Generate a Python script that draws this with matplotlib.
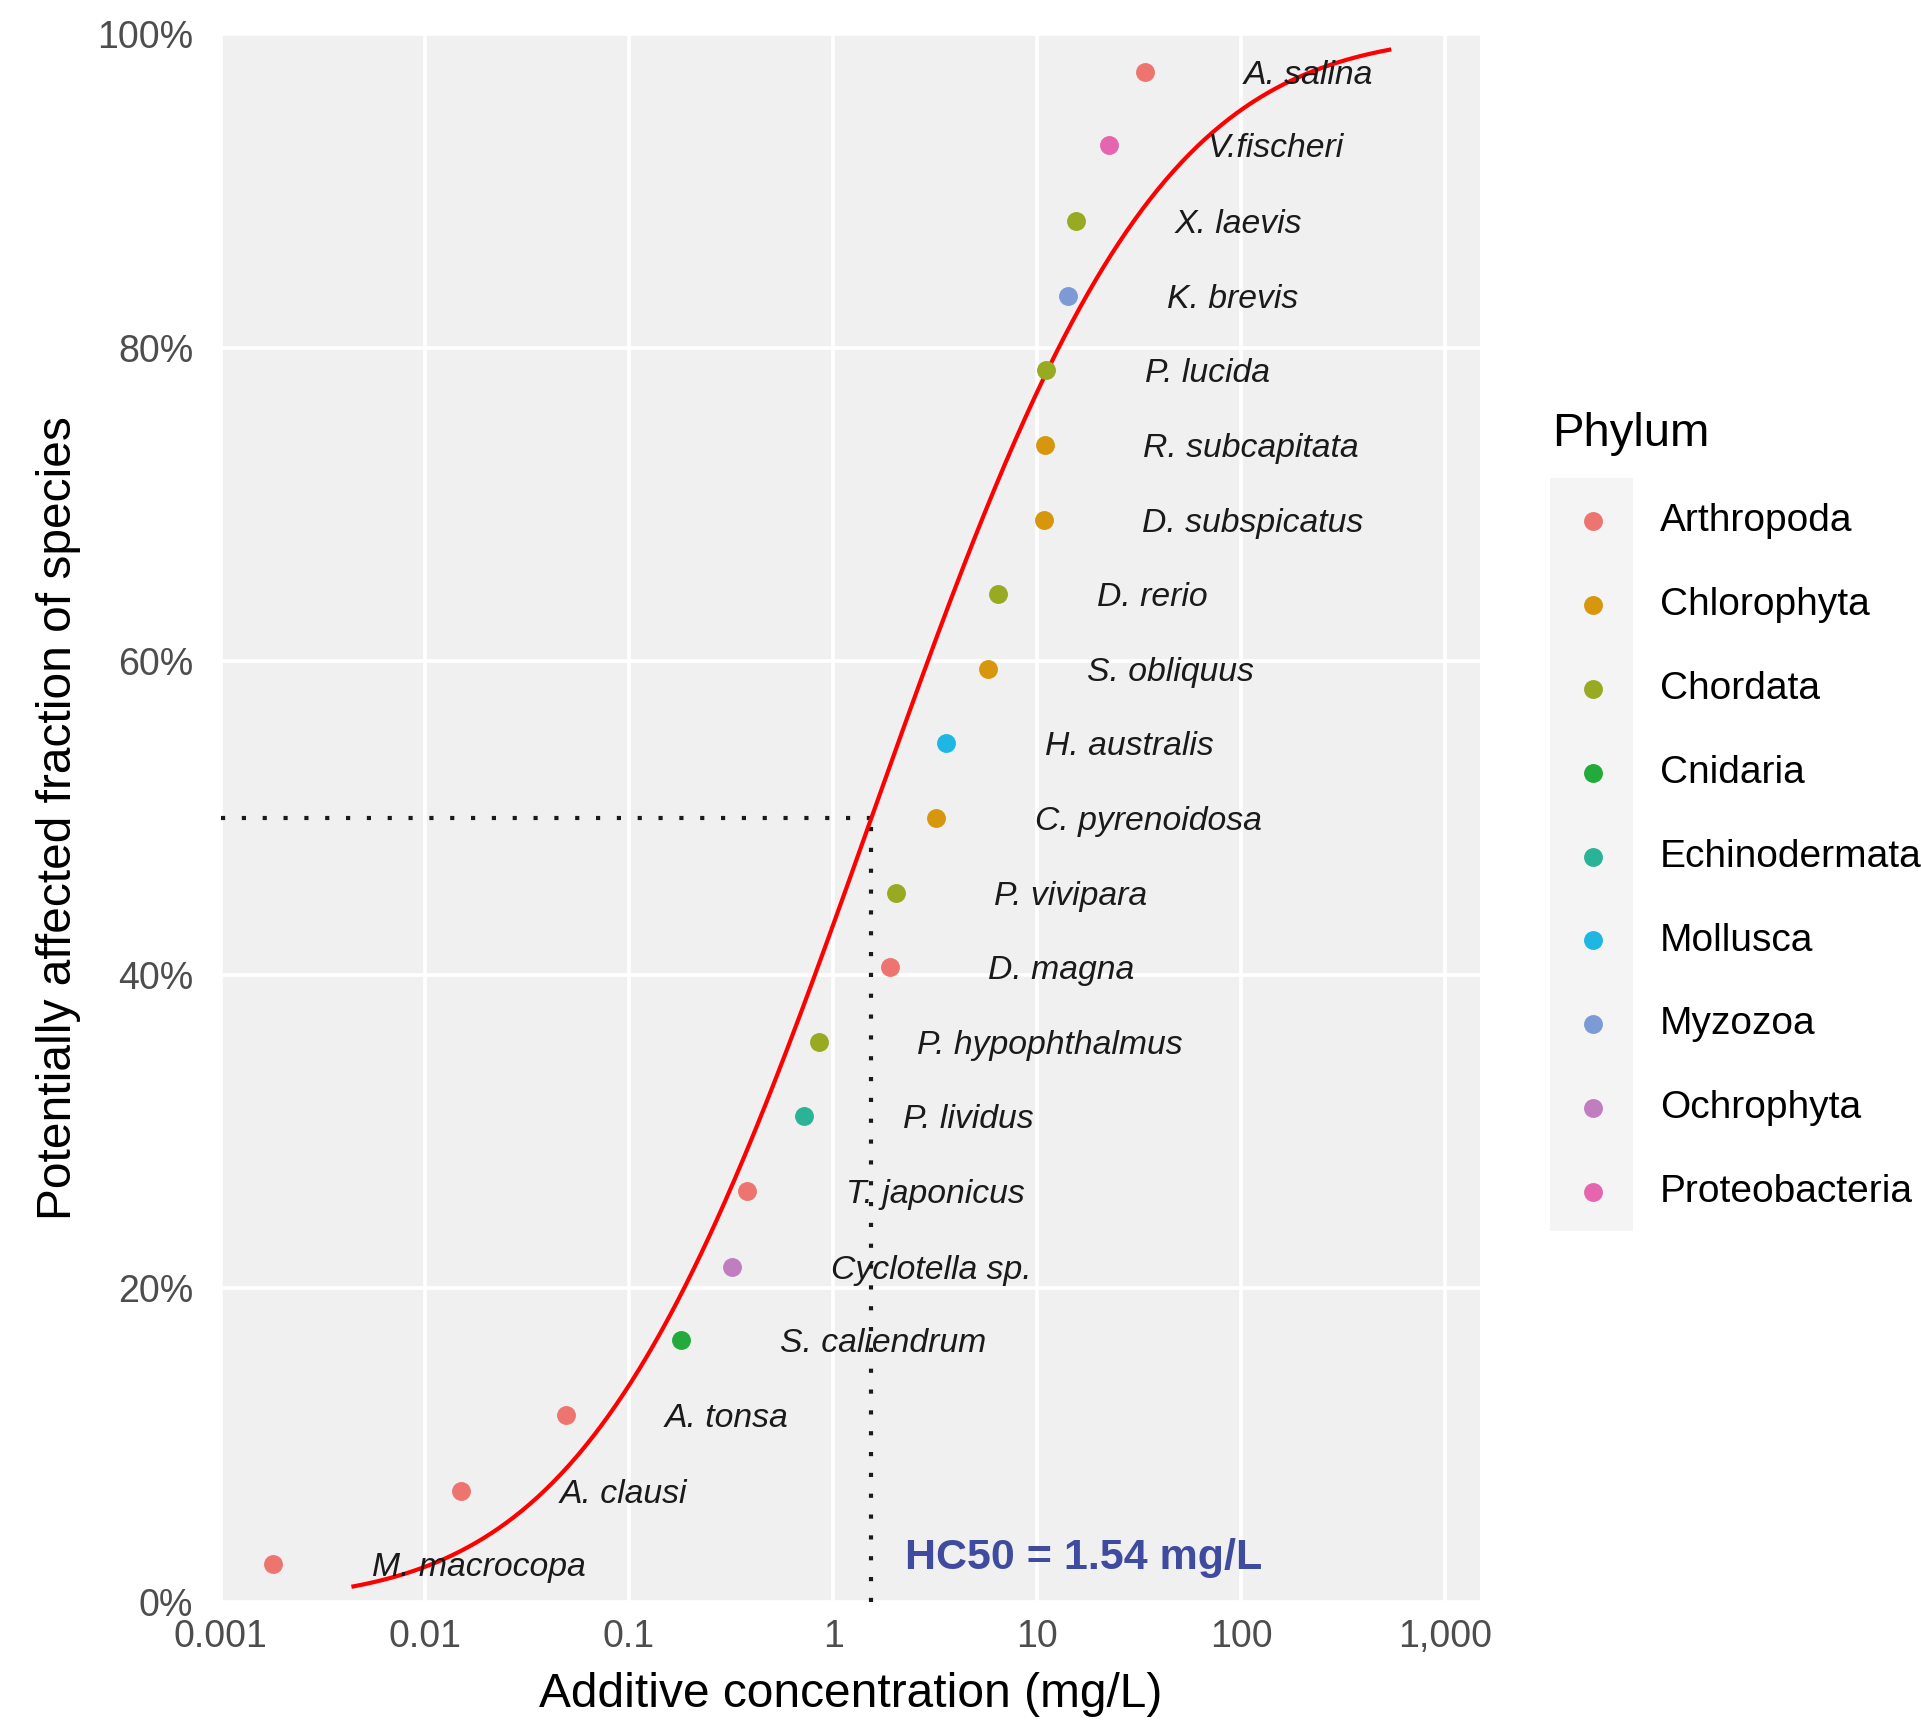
import numpy as np
import matplotlib
matplotlib.use('Agg')
import matplotlib.pyplot as plt
from matplotlib.patches import Rectangle
from math import erf, sqrt

plt.rcParams['font.family'] = 'Liberation Sans'

# species sensitivity data (bottom to top)
species = ['M. macrocopa', 'A. clausi', 'A. tonsa', 'S. caliendrum', 'Cyclotella sp.',
           'T. japonicus', 'P. lividus', 'P. hypophthalmus', 'D. magna', 'P. vivipara',
           'C. pyrenoidosa', 'H. australis', 'S. obliquus', 'D. rerio', 'D. subspicatus',
           'R. subcapitata', 'P. lucida', 'K. brevis', 'X. laevis', 'V.fischeri', 'A. salina']
phylum = ['Arthropoda', 'Arthropoda', 'Arthropoda', 'Cnidaria', 'Ochrophyta',
          'Arthropoda', 'Echinodermata', 'Chordata', 'Arthropoda', 'Chordata',
          'Chlorophyta', 'Mollusca', 'Chlorophyta', 'Chordata', 'Chlorophyta',
          'Chlorophyta', 'Chordata', 'Myzozoa', 'Chordata', 'Proteobacteria', 'Arthropoda']
conc = [0.0018, 0.015, 0.049, 0.18, 0.32, 0.38, 0.72, 0.85, 1.90, 2.03, 3.21,
        3.59, 5.76, 6.44, 10.8, 10.9, 11.1, 14.2, 15.5, 22.5, 33.7]
fraction = [0.024, 0.071, 0.119, 0.167, 0.214, 0.262, 0.310, 0.357, 0.405, 0.452, 0.500,
            0.548, 0.595, 0.643, 0.690, 0.738, 0.786, 0.833, 0.881, 0.929, 0.976]

phyla = ['Arthropoda', 'Chlorophyta', 'Chordata', 'Cnidaria', 'Echinodermata',
         'Mollusca', 'Myzozoa', 'Ochrophyta', 'Proteobacteria']
phyla_colors = ['#EE7470', '#D8960C', '#98A922', '#22AA3A', '#2BB398',
                '#1EB6E2', '#7C9AD6', '#C07EC0', '#E565AE']

hc50 = 1.54
x_ticks = [0.001, 0.01, 0.1, 1, 10, 100, 1000]
x_ticklabels = ['0.001', '0.01', '0.1', '1', '10', '100', '1,000']
y_ticks = [0, 0.2, 0.4, 0.6, 0.8, 1.0]
y_ticklabels = ['0%', '20%', '40%', '60%', '80%', '100%']

fig = plt.figure(figsize=(19.21, 17.21), dpi=100)
ax = fig.add_axes([0.1150, 0.0691, 0.6554, 0.9111])
ax.set_facecolor('#F0F0F0')
ax.set_xscale('log')
ax.set_xlim(0.001, 10 ** 3.17)
ax.set_ylim(0, 1)

ax.set_xticks(x_ticks)
ax.set_xticklabels(x_ticklabels)
ax.xaxis.set_minor_locator(matplotlib.ticker.NullLocator())
ax.set_yticks(y_ticks)
ax.set_yticklabels(y_ticklabels)
ax.tick_params(axis='both', length=0, labelsize=27, labelcolor='#4D4D4D')
ax.tick_params(axis='y', pad=20)
ax.tick_params(axis='x', pad=12)
ax.grid(True, color='white', linewidth=2.6)
ax.set_axisbelow(True)
for s in ax.spines.values():
    s.set_visible(False)

# fitted log-normal SSD curve
logc = np.log10(conc)
mu = np.log10(hc50)
sd = np.std(logc)
z = np.linspace(-2.326, 2.326, 400)
curve_x = 10 ** (mu + sd * z)
curve_y = [0.5 * (1 + erf(v / sqrt(2))) for v in z]
ax.plot(curve_x, curve_y, color='#FF0000', linewidth=3.0, zorder=3)

# HC50 guides
ax.plot([0.001, hc50], [0.5, 0.5], color='#1A1A1A', linewidth=3.0,
        linestyle=(0, (1, 4)), zorder=2)
ax.plot([hc50, hc50], [0, 0.5], color='#1A1A1A', linewidth=3.0,
        linestyle=(0, (1, 4)), zorder=2)

# points by phylum
for ph, col in zip(phyla, phyla_colors):
    xs = [c for c, p in zip(conc, phylum) if p == ph]
    ys = [f for f, p in zip(fraction, phylum) if p == ph]
    ax.scatter(xs, ys, s=185, color=col, label=ph, zorder=4, linewidths=0)

for name, c, f in zip(species, conc, fraction):
    ax.text(c * 3.04, f, name, fontsize=24.3, style='italic', color='#1A1A1A',
            ha='left', va='center_baseline', zorder=5)

ax.text(2.25, 0.028, 'HC50 = 1.54 mg/L', fontsize=31, fontweight='bold',
        color='#3F4B9E', ha='left', va='center', zorder=5)

ax.set_xlabel('Additive concentration (mg/L)', fontsize=34.5, va='center')
ax.xaxis.set_label_coords(0.5, -0.059)
ax.set_ylabel('Potentially affected fraction of species', fontsize=34.5, va='center')
ax.yaxis.set_label_coords(-0.1287, 0.5)

# legend key background
fig.patches.append(Rectangle((0.8069, 0.2847), 0.0432, 0.4375, transform=fig.transFigure,
                             facecolor='#F4F4F4', edgecolor='none', zorder=-1))
leg = ax.legend(title='Phylum', loc='upper left', bbox_to_anchor=(0.8079, 0.7608),
                bbox_transform=fig.transFigure, frameon=False, fontsize=28,
                title_fontsize=34, alignment='left', handlelength=2.1,
                handletextpad=0.67, labelspacing=1.23, borderpad=0,
                borderaxespad=0, scatterpoints=1)

fig.savefig('out.png', dpi=100)
